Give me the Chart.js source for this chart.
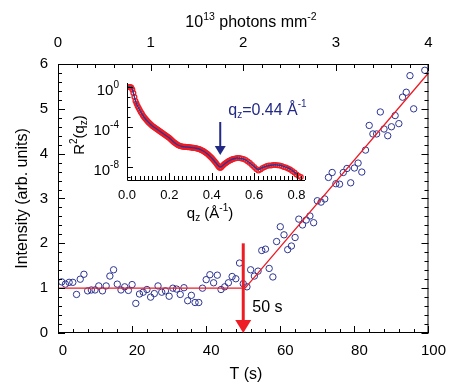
<!DOCTYPE html>
<html>
<head>
<meta charset="utf-8">
<script src="https://cdn.jsdelivr.net/npm/chart.js@4.4.0/dist/chart.umd.min.js"></script>
<style>
  html, body { margin: 0; padding: 0; background: #fff; }
  #wrap { position: relative; width: 450px; height: 385px; }
  #main { position: absolute; left: 0; top: 0; }
  #inset { position: absolute; left: 60px; top: 70px; }
</style>
</head>
<body>
<div id="wrap">
  <canvas id="main" width="450" height="385"></canvas>
  <canvas id="inset" width="260" height="160"></canvas>
</div>
<script>
// main panel: intensity vs time
const timeS = [
  1, 2, 3, 4, 5, 6, 7, 8, 9, 10, 11, 12, 13, 14, 15, 16, 17, 18, 19, 20,
  21, 22, 23, 24, 25, 26, 27, 28, 29, 30, 31, 32, 33, 34, 35, 36, 37, 38, 39, 40,
  41, 42, 43, 44, 45, 46, 47, 48, 49, 50, 51, 52, 53, 54, 55, 56, 57, 58, 59, 60,
  61, 62, 63, 64, 65, 66, 67, 68, 69, 70, 71, 72, 73, 74, 75, 76, 77, 78, 79, 80,
  81, 82, 83, 84, 85, 86, 87, 88, 89, 90, 91, 92, 93, 94, 95, 96, 99
];
const intensity = [
  1.14, 1.09, 1.13, 1.13, 0.86, 1.20, 1.31, 0.94, 0.96, 0.96, 1.05, 0.94, 1.05, 1.27, 1.41, 1.09, 0.96, 1.03, 0.95, 1.08,
  0.66, 0.87, 0.91, 0.97, 0.80, 0.88, 1.05, 0.91, 0.94, 0.82, 1.00, 0.98, 0.86, 1.01, 0.72, 0.84, 0.68, 0.68, 1.00, 1.19,
  1.30, 1.12, 1.29, 0.97, 1.03, 1.12, 1.26, 1.21, 1.56, 1.10, 1.03, 1.41, 1.27, 1.38, 1.84, 1.87, 1.44, 1.25, 2.04, 2.37,
  2.19, 1.86, 1.94, 2.13, 2.54, 2.41, 2.52, 2.61, 2.46, 2.95, 2.92, 2.99, 3.47, 3.58, 3.33, 3.32, 3.58, 3.67, 3.35, 3.68,
  3.79, 3.59, 4.08, 4.63, 4.44, 4.44, 4.93, 4.55, 4.40, 4.60, 4.85, 4.67, 5.26, 5.37, 5.74, 5.00, 5.86
];
const fitT = [0, 50.5, 100];
const fitI = [1.0, 1.0, 5.8];
const onsetT = 50;         // arrow position
const onsetTop = 2.0;      // arrow starts here

const xTicks = [0, 20, 40, 60, 80, 100];
const yTicks = [0, 1, 2, 3, 4, 5, 6];
const doseTicks = [0, 1, 2, 3, 4];

// inset: reflectivity, stored as log10 R
const reflQ = [
  0.010, 0.015, 0.020, 0.025, 0.030, 0.035, 0.040, 0.045, 0.050, 0.055,
  0.060, 0.065, 0.070, 0.075, 0.080, 0.085, 0.090, 0.095, 0.100, 0.105,
  0.110, 0.115, 0.120, 0.125, 0.130, 0.135, 0.140, 0.145, 0.150, 0.155,
  0.160, 0.165, 0.170, 0.175, 0.180, 0.185, 0.190, 0.195, 0.200, 0.205,
  0.210, 0.215, 0.220, 0.225, 0.230, 0.235, 0.240, 0.245, 0.250, 0.255,
  0.260, 0.265, 0.270, 0.275, 0.280, 0.285, 0.290, 0.295, 0.300, 0.305,
  0.310, 0.315, 0.320, 0.325, 0.330, 0.335, 0.340, 0.345, 0.350, 0.355,
  0.360, 0.365, 0.370, 0.375, 0.380, 0.385, 0.390, 0.395, 0.400, 0.405,
  0.410, 0.415, 0.420, 0.425, 0.430, 0.435, 0.440, 0.445, 0.450, 0.455,
  0.460, 0.465, 0.470, 0.475, 0.480, 0.485, 0.490, 0.495, 0.500,
  0.51, 0.52, 0.53, 0.54, 0.55, 0.56, 0.57, 0.58, 0.59, 0.60,
  0.61, 0.62, 0.63, 0.64, 0.65, 0.66, 0.67, 0.68, 0.69, 0.70,
  0.71, 0.72, 0.73, 0.74, 0.75, 0.76, 0.77, 0.78, 0.79, 0.80,
  0.81, 0.82
];
const reflLog = [
  0.0, 0.0, -0.05, -0.25, -0.6, -1.0, -1.4, -1.65, -1.9, -2.1,
  -2.3, -2.5, -2.65, -2.85, -3.0, -3.12, -3.25, -3.38, -3.5, -3.6,
  -3.7, -3.8, -3.9, -3.98, -4.05, -4.12, -4.2, -4.28, -4.35, -4.42,
  -4.5, -4.58, -4.65, -4.72, -4.8, -4.88, -4.95, -5.02, -5.1, -5.2,
  -5.3, -5.4, -5.5, -5.58, -5.65, -5.72, -5.8, -5.85, -5.9, -5.93,
  -5.95, -5.97, -5.98, -5.99, -6.0, -6.01, -6.02, -6.03, -6.05, -6.06,
  -6.08, -6.09, -6.1, -6.12, -6.15, -6.17, -6.2, -6.25, -6.3, -6.35,
  -6.4, -6.47, -6.55, -6.62, -6.7, -6.8, -6.9, -7.0, -7.1, -7.22,
  -7.35, -7.48, -7.6, -7.75, -7.9, -8.02, -8.1, -8.02, -7.9, -7.8,
  -7.7, -7.62, -7.55, -7.47, -7.4, -7.35, -7.3, -7.25, -7.2,
  -7.15, -7.1, -7.1, -7.15, -7.2, -7.3, -7.45, -7.6, -7.8, -8.0,
  -8.2, -8.35, -8.25, -8.1, -8.0, -7.9, -7.85, -7.85, -7.8, -7.8,
  -7.82, -7.85, -7.9, -8.0, -8.05, -8.15, -8.25, -8.4, -8.55, -8.75,
  -8.9, -9.0
];
const modelQ = [0.005, 0.02, 0.03, 0.04, 0.06, 0.08, 0.10, 0.12, 0.14, 0.16, 0.18, 0.20, 0.22, 0.24, 0.26, 0.28,
  0.30, 0.32, 0.34, 0.36, 0.38, 0.40, 0.42, 0.44, 0.46, 0.48, 0.50, 0.52, 0.54, 0.56, 0.58, 0.60, 0.62,
  0.64, 0.66, 0.68, 0.70, 0.72, 0.74, 0.76, 0.78, 0.80];
const modelLog = [0.0, 0.0, -0.6, -1.4, -2.3, -3.0, -3.5, -3.9, -4.2, -4.5, -4.8, -5.1, -5.5, -5.8, -5.95, -6.0,
  -6.05, -6.1, -6.2, -6.4, -6.7, -7.1, -7.6, -8.0, -7.7, -7.4, -7.2, -7.1, -7.15, -7.3, -7.6, -7.95, -8.25,
  -8.05, -7.9, -7.82, -7.78, -7.82, -7.95, -8.1, -8.35, -8.7];
const markQ = 0.44;
const markLog = [-3.5, -6.8];

const qTicks = [0, 0.2, 0.4, 0.6, 0.8];
const rTicksLog = [0, -4, -8];

const FONT = '"Liberation Sans", Arial, Helvetica, sans-serif';
const BLUE = '#2d3592';
const RED = '#ee1c25';
const NAVY = '#222a85';
Chart.defaults.font.family = FONT;
Chart.defaults.color = '#000';

function rich(ctx, parts, x, y, align, color) {
  let w = 0;
  parts.forEach(p => { ctx.font = p[1] + 'px ' + FONT; w += ctx.measureText(p[0]).width; });
  let cx = align === 'center' ? x - w / 2 : (align === 'right' ? x - w : x);
  ctx.textAlign = 'left';
  ctx.textBaseline = 'alphabetic';
  ctx.fillStyle = color || '#000';
  parts.forEach(p => {
    ctx.font = p[1] + 'px ' + FONT;
    ctx.fillText(p[0], cx, y + (p[2] || 0));
    cx += ctx.measureText(p[0]).width;
  });
}

function ticksOn(ctx, scale, from, to, step, majors, side, a) {
  ctx.beginPath();
  for (let v = from; v <= to + step / 1000; v += step) {
    const major = majors.some(m => Math.abs(m - v) < step / 100);
    const len = major ? 7 : 4;
    const p = Math.round(scale.getPixelForValue(v)) + 0.5;
    if (side === 'bottom') { ctx.moveTo(p, a.bottom); ctx.lineTo(p, a.bottom - len); }
    if (side === 'top') { ctx.moveTo(p, a.top); ctx.lineTo(p, a.top + len); }
    if (side === 'left') { ctx.moveTo(a.left, p); ctx.lineTo(a.left + len, p); }
    if (side === 'right') { ctx.moveTo(a.right, p); ctx.lineTo(a.right - len, p); }
  }
  ctx.stroke();
}

const mainDeco = {
  id: 'mainDeco',
  afterDatasetsDraw(chart) {
    const ctx = chart.ctx, a = chart.chartArea;
    const xs = chart.scales.x, ys = chart.scales.y, ds = chart.scales.x2;
    ctx.save();
    ctx.strokeStyle = '#000';
    ctx.lineWidth = 1;
    ctx.strokeRect(a.left + 0.5, a.top + 0.5, a.right - a.left - 1, a.bottom - a.top - 1);
    ticksOn(ctx, xs, 0, 100, 4, xTicks, 'bottom', a);
    ticksOn(ctx, ds, 0, 4, 0.2, doseTicks, 'top', a);
    ticksOn(ctx, ys, 0, 6, 0.2, yTicks, 'left', a);
    ticksOn(ctx, ys, 0, 6, 0.2, yTicks, 'right', a);

    // onset arrow
    const ax = xs.getPixelForValue(onsetT);
    const ay0 = ys.getPixelForValue(onsetTop), ay1 = ys.getPixelForValue(0);
    ctx.fillStyle = RED;
    ctx.fillRect(ax - 1.5, ay0, 3, ay1 - ay0 - 12);
    ctx.beginPath();
    ctx.moveTo(ax - 8, ay1 - 13);
    ctx.lineTo(ax + 8, ay1 - 13);
    ctx.lineTo(ax, ay1);
    ctx.closePath();
    ctx.fill();
    rich(ctx, [['50 s', 16]], ax + 9, 311.5, 'left', '#000');

    // axis titles
    rich(ctx, [['T (s)', 16]], 246, 379, 'center');
    rich(ctx, [['10', 16], ['13', 10.5, -7], [' photons mm', 16], ['-2', 10.5, -7]], 251, 26.7, 'center');
    ctx.save();
    ctx.translate(21, (a.top + a.bottom) / 2);
    ctx.rotate(-Math.PI / 2);
    rich(ctx, [['Intensity (arb. units)', 16]], 0, 5.7, 'center');
    ctx.restore();
    ctx.restore();
  }
};

new Chart(document.getElementById('main'), {
  type: 'scatter',
  data: {
    datasets: [
      {
        type: 'line',
        data: fitT.map((t, i) => ({ x: t, y: fitI[i] })),
        borderColor: RED,
        borderWidth: 1.3,
        pointRadius: 0,
        fill: false
      },
      {
        data: timeS.map((t, i) => ({ x: t, y: intensity[i] })),
        pointStyle: 'circle',
        pointRadius: 3.2,
        borderWidth: 1,
        borderColor: BLUE,
        backgroundColor: 'rgba(0,0,0,0)'
      }
    ]
  },
  options: {
    responsive: false,
    animation: false,
    layout: { padding: { right: 15, left: 0, top: 0, bottom: 0 } },
    plugins: { legend: { display: false }, tooltip: { enabled: false } },
    scales: {
      x: {
        type: 'linear', position: 'bottom', min: 0, max: 100,
        grid: { display: false, drawTicks: false },
        border: { display: false },
        ticks: { font: { size: 15 }, padding: 9, labelOffset: 5, maxRotation: 0 },
        afterBuildTicks: s => { s.ticks = xTicks.map(v => ({ value: v })); },
        afterFit: s => { s.height = 52; }
      },
      x2: {
        type: 'linear', position: 'top', min: 0, max: 4,
        grid: { display: false, drawTicks: false },
        border: { display: false },
        ticks: { font: { size: 15 }, padding: 12, maxRotation: 0 },
        afterBuildTicks: s => { s.ticks = doseTicks.map(v => ({ value: v })); },
        afterFit: s => { s.height = 64; }
      },
      y: {
        type: 'linear', position: 'left', min: 0, max: 6,
        grid: { display: false, drawTicks: false },
        border: { display: false },
        ticks: { font: { size: 15 }, padding: 10 },
        afterBuildTicks: s => { s.ticks = yTicks.map(v => ({ value: v })); },
        afterFit: s => { s.width = 58; }
      }
    }
  },
  plugins: [mainDeco]
});

const insetDeco = {
  id: 'insetDeco',
  afterDatasetsDraw(chart) {
    const ctx = chart.ctx, a = chart.chartArea;
    const xs = chart.scales.x, ys = chart.scales.y;
    ctx.save();
    ctx.strokeStyle = '#000';
    ctx.lineWidth = 1;
    ctx.beginPath();
    ctx.moveTo(a.left + 0.5, a.top);
    ctx.lineTo(a.left + 0.5, a.bottom + 0.5);
    ctx.lineTo(a.right, a.bottom + 0.5);
    ctx.stroke();
    ticksOn(ctx, xs, 0, 0.84, 0.02, qTicks, 'bottom', a);
    ctx.beginPath();
    for (let e = 0; e >= -9; e--) {
      const p = Math.round(ys.getPixelForValue(Math.pow(10, e))) + 0.5;
      const len = rTicksLog.includes(e) ? 6 : 3.5;
      ctx.moveTo(a.left, p); ctx.lineTo(a.left + len, p);
    }
    ctx.stroke();
    rTicksLog.forEach(e => {
      const p = ys.getPixelForValue(Math.pow(10, e));
      rich(ctx, [['10', 15], [String(e), 10, -7]], a.left - 8, p + 8, 'right');
    });

    // minimum marker
    const mx = xs.getPixelForValue(markQ);
    const my0 = ys.getPixelForValue(Math.pow(10, markLog[0]));
    const my1 = ys.getPixelForValue(Math.pow(10, markLog[1]));
    ctx.fillStyle = NAVY;
    ctx.fillRect(mx - 1, my0, 2, my1 - my0 - 8);
    ctx.beginPath();
    ctx.moveTo(mx - 5.5, my1 - 9);
    ctx.lineTo(mx + 5.5, my1 - 9);
    ctx.lineTo(mx, my1);
    ctx.closePath();
    ctx.fill();
    rich(ctx, [['q', 16], ['z', 10, 3], ['=0.44 Å', 16], ['-1', 10, -8]], mx + 8, 45, 'left', NAVY);

    rich(ctx, [['q', 15], ['z', 10, 3], [' (Å', 15], ['-1', 10, -7], [')', 15]], 150, 148, 'center');
    ctx.save();
    ctx.translate(19, 65);
    ctx.rotate(-Math.PI / 2);
    rich(ctx, [['R', 15], ['2', 10, -7], ['(q', 15], ['z', 10, 3], [')', 15]], 0, 5.4, 'center');
    ctx.restore();
    ctx.restore();
  }
};

new Chart(document.getElementById('inset'), {
  type: 'scatter',
  data: {
    datasets: [
      {
        type: 'line',
        data: modelQ.map((q, i) => ({ x: q, y: Math.pow(10, modelLog[i]) })),
        borderColor: BLUE,
        borderWidth: 1.4,
        pointRadius: 0,
        cubicInterpolationMode: 'monotone',
        fill: false
      },
      {
        data: reflQ.map((q, i) => ({ x: q, y: Math.pow(10, reflLog[i]) })),
        pointStyle: 'circle',
        pointRadius: 2.4,
        borderWidth: 1.3,
        borderColor: RED,
        backgroundColor: 'rgba(0,0,0,0)'
      }
    ]
  },
  options: {
    responsive: false,
    animation: false,
    layout: { padding: { left: 0, right: 15, top: 13, bottom: 0 } },
    plugins: { legend: { display: false }, tooltip: { enabled: false } },
    scales: {
      x: {
        type: 'linear', position: 'bottom', min: 0, max: 0.84,
        grid: { display: false, drawTicks: false },
        border: { display: false },
        ticks: { font: { size: 13 }, padding: 8, maxRotation: 0, callback: v => v.toFixed(1) },
        afterBuildTicks: s => { s.ticks = qTicks.map(v => ({ value: v })); },
        afterFit: s => { s.height = 50; }
      },
      y: {
        type: 'logarithmic', position: 'left', min: Math.pow(10, -9.3), max: Math.pow(10, 0.4),
        grid: { display: false, drawTicks: false },
        border: { display: false },
        ticks: { display: false },
        afterFit: s => { s.width = 67; }
      }
    }
  },
  plugins: [insetDeco]
});
</script>
</body>
</html>
